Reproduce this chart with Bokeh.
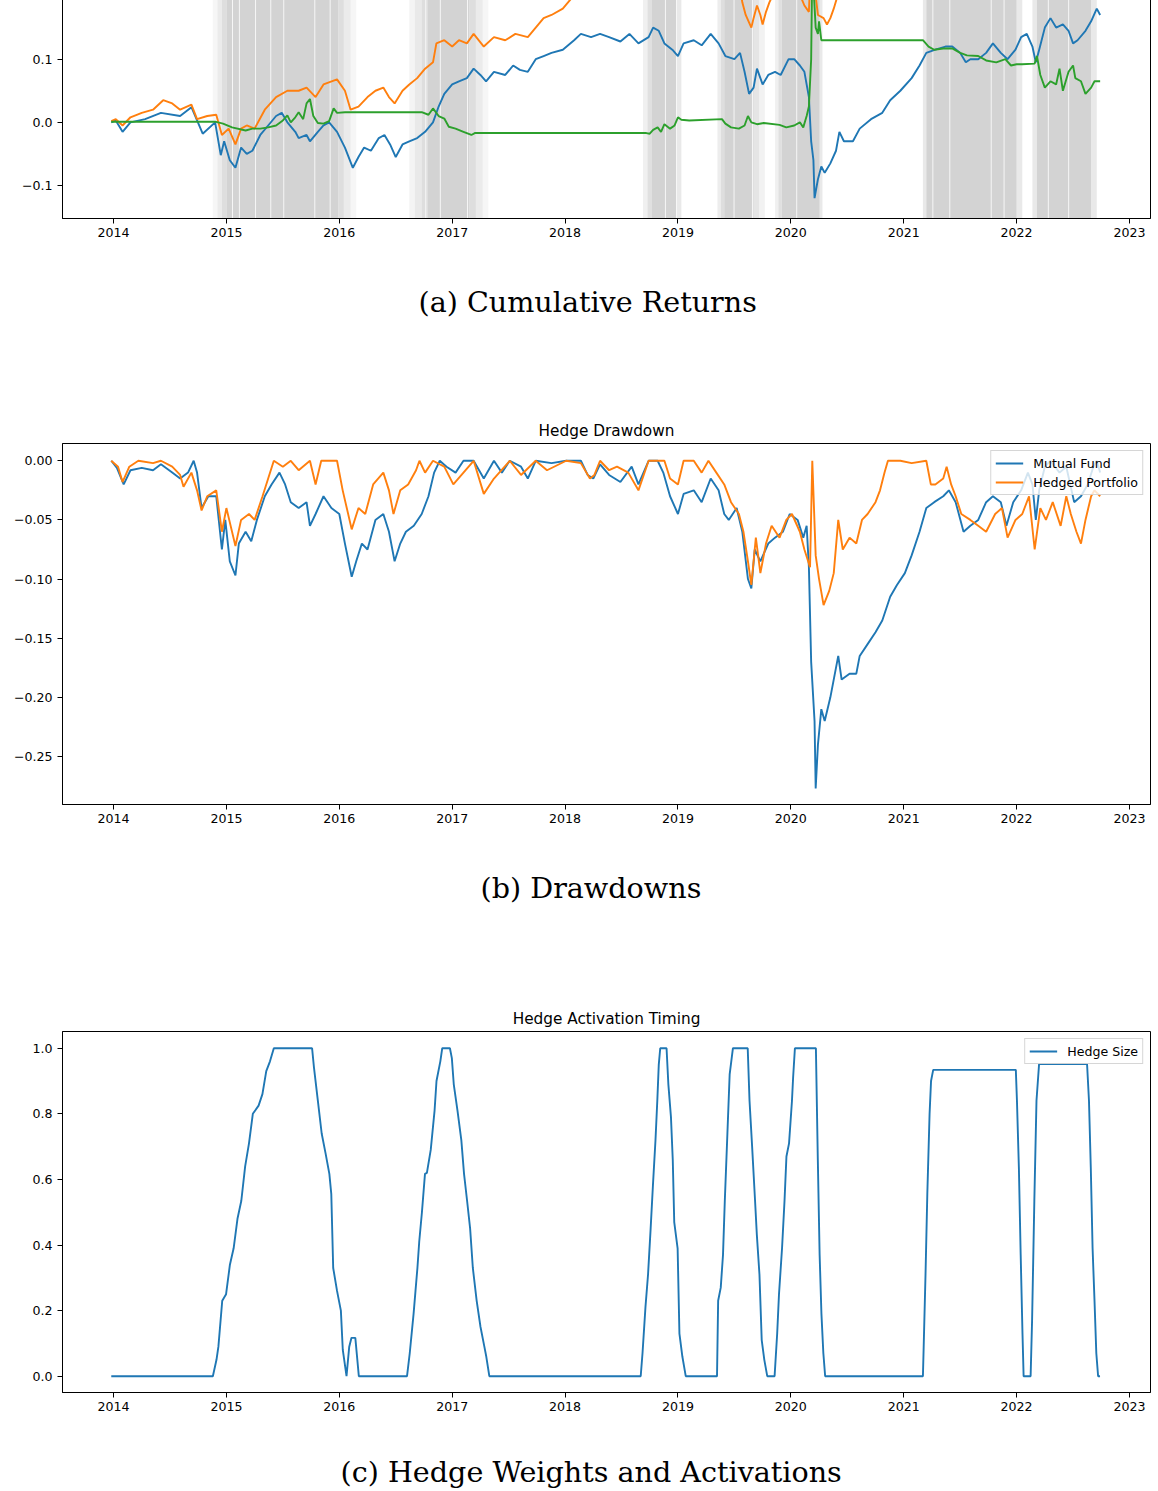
from bokeh.plotting import figure
from bokeh.layouts import column
from bokeh.models import (Range1d, FixedTicker, Title, Legend, LegendItem,
                          BoxAnnotation, Span)
from bokeh.embed import file_html
from bokeh.resources import INLINE

# ---------------- data ----------------
years = [2014, 2015, 2016, 2017, 2018, 2019, 2020, 2021, 2022, 2023]
year_labels = ["2014", "2015", "2016", "2017", "2018", "2019", "2020", "2021", "2022", "2023"]

# (a) cumulative returns
fund_cum_t = [
    2013.98, 2014.02, 2014.08, 2014.15, 2014.28, 2014.42, 2014.59, 2014.69, 2014.79, 2014.90,
    2014.95, 2014.98, 2015.03, 2015.08, 2015.13, 2015.18, 2015.23, 2015.30, 2015.37, 2015.44,
    2015.49, 2015.54, 2015.61, 2015.64, 2015.71, 2015.74, 2015.81, 2015.86, 2015.91, 2015.98,
    2016.05, 2016.12, 2016.17, 2016.22, 2016.28, 2016.35, 2016.40, 2016.45, 2016.50, 2016.56,
    2016.62, 2016.69, 2016.76, 2016.83, 2016.88, 2016.93, 2017.00, 2017.06, 2017.13, 2017.19,
    2017.25, 2017.30, 2017.37, 2017.47, 2017.54, 2017.60, 2017.67, 2017.74, 2017.81, 2017.88,
    2017.98, 2018.08, 2018.14, 2018.23, 2018.31, 2018.39, 2018.49, 2018.57, 2018.65, 2018.74,
    2018.78, 2018.83, 2018.88, 2018.95, 2019.00, 2019.05, 2019.14, 2019.21, 2019.29, 2019.36,
    2019.42, 2019.50, 2019.55, 2019.59, 2019.63, 2019.67, 2019.70, 2019.75, 2019.80, 2019.86,
    2019.91, 2019.98, 2020.03, 2020.08, 2020.12, 2020.16, 2020.18, 2020.20, 2020.21, 2020.24,
    2020.27, 2020.30, 2020.35, 2020.40, 2020.43, 2020.47, 2020.55, 2020.61, 2020.71, 2020.81,
    2020.88, 2020.97, 2021.07, 2021.14, 2021.20, 2021.28, 2021.37, 2021.43, 2021.50, 2021.55,
    2021.59, 2021.66, 2021.73, 2021.79, 2021.86, 2021.92, 2021.99, 2022.04, 2022.09, 2022.14,
    2022.17, 2022.20, 2022.25, 2022.30, 2022.35, 2022.41, 2022.46, 2022.50, 2022.54, 2022.61,
    2022.66, 2022.71, 2022.74]
fund_cum = [
    0.0, 0.003, -0.015, 0.0, 0.005, 0.015, 0.01, 0.024, -0.018, 0.0,
    -0.052, -0.03, -0.06, -0.072, -0.04, -0.05, -0.045, -0.02, -0.005, 0.01,
    0.015, 0.0, -0.015, -0.025, -0.02, -0.03, -0.015, -0.005, 0.0, -0.015,
    -0.04, -0.072, -0.055, -0.04, -0.045, -0.025, -0.02, -0.035, -0.055, -0.035,
    -0.03, -0.025, -0.015, 0.0, 0.025, 0.045, 0.06, 0.065, 0.07, 0.085,
    0.075, 0.065, 0.08, 0.075, 0.09, 0.083, 0.08, 0.1, 0.105, 0.11,
    0.115, 0.13, 0.14, 0.135, 0.14, 0.135, 0.128, 0.14, 0.125, 0.135,
    0.15, 0.145, 0.125, 0.115, 0.105, 0.125, 0.13, 0.122, 0.14, 0.125,
    0.105, 0.1, 0.11, 0.08, 0.045, 0.055, 0.085, 0.06, 0.075, 0.08,
    0.075, 0.1, 0.1, 0.09, 0.08, 0.04, -0.03, -0.06, -0.12, -0.09,
    -0.07, -0.08, -0.065, -0.045, -0.015, -0.03, -0.03, -0.01, 0.005, 0.015,
    0.035, 0.05, 0.07, 0.09, 0.11, 0.115, 0.12, 0.12, 0.11, 0.095,
    0.1, 0.1, 0.11, 0.125, 0.11, 0.1, 0.115, 0.135, 0.14, 0.12,
    0.095, 0.115, 0.15, 0.165, 0.15, 0.155, 0.145, 0.125, 0.13, 0.145,
    0.16, 0.18, 0.17]

hedged_cum_t = [
    2013.98, 2014.02, 2014.08, 2014.15, 2014.25, 2014.35, 2014.44, 2014.52, 2014.59, 2014.69,
    2014.74, 2014.83, 2014.91, 2014.96, 2015.02, 2015.08, 2015.13, 2015.18, 2015.25, 2015.34,
    2015.44, 2015.54, 2015.64, 2015.71, 2015.79, 2015.86, 2015.98, 2016.05, 2016.10, 2016.17,
    2016.25, 2016.32, 2016.39, 2016.44, 2016.49, 2016.56, 2016.62, 2016.69, 2016.76, 2016.83,
    2016.86, 2016.93, 2017.00, 2017.06, 2017.13, 2017.19, 2017.28, 2017.37, 2017.47, 2017.56,
    2017.67, 2017.74, 2017.81, 2017.88, 2017.98, 2018.05, 2018.10, 2018.20, 2018.26, 2018.35,
    2018.46, 2018.56, 2018.65, 2018.74, 2018.88, 2018.93, 2019.00, 2019.05, 2019.14, 2019.21,
    2019.27, 2019.34, 2019.41, 2019.47, 2019.54, 2019.57, 2019.60, 2019.65, 2019.67, 2019.70,
    2019.73, 2019.75, 2019.78, 2019.81, 2019.85, 2019.92, 2020.00, 2020.06, 2020.09, 2020.12,
    2020.16, 2020.19, 2020.22, 2020.24, 2020.29, 2020.32, 2020.35, 2020.38, 2020.43, 2020.50,
    2020.60, 2020.70, 2020.80, 2020.86, 2021.00, 2021.20, 2021.25, 2021.40, 2021.50, 2021.70,
    2021.90, 2022.10, 2022.16, 2022.30, 2022.40, 2022.57, 2022.74]
hedged_cum = [
    0.002, 0.005, -0.005, 0.008, 0.015, 0.02, 0.035, 0.03, 0.02, 0.028,
    0.005, 0.01, 0.012, -0.02, -0.01, -0.035, -0.01, -0.005, -0.01, 0.02,
    0.04, 0.05, 0.05, 0.055, 0.04, 0.06, 0.068, 0.05, 0.02, 0.025,
    0.04, 0.05, 0.055, 0.04, 0.03, 0.05, 0.06, 0.07, 0.085, 0.095,
    0.125, 0.13, 0.12, 0.13, 0.125, 0.14, 0.12, 0.135, 0.13, 0.14,
    0.135, 0.15, 0.165, 0.17, 0.18, 0.195, 0.205, 0.215, 0.205, 0.22,
    0.22, 0.23, 0.215, 0.245, 0.25, 0.235, 0.23, 0.26, 0.27, 0.26,
    0.285, 0.275, 0.26, 0.24, 0.225, 0.19, 0.17, 0.15, 0.165, 0.185,
    0.17, 0.155, 0.175, 0.19, 0.205, 0.22, 0.225, 0.21, 0.198, 0.185,
    0.175, 0.315, 0.2, 0.17, 0.165, 0.155, 0.165, 0.18, 0.21, 0.23,
    0.235, 0.26, 0.29, 0.315, 0.33, 0.36, 0.335, 0.355, 0.32, 0.3,
    0.28, 0.31, 0.26, 0.3, 0.28, 0.26, 0.29]

hedge_cum_t = [
    2013.98, 2014.90, 2014.97, 2015.05, 2015.17, 2015.23, 2015.30, 2015.37, 2015.44, 2015.50,
    2015.54, 2015.57, 2015.61, 2015.64, 2015.68, 2015.71, 2015.74, 2015.77, 2015.81, 2015.86,
    2015.91, 2015.95, 2015.98, 2016.05, 2016.73, 2016.79, 2016.83, 2016.88, 2016.93, 2016.97,
    2017.03, 2017.10, 2017.17, 2017.20, 2018.72, 2018.75, 2018.78, 2018.82, 2018.85, 2018.88,
    2018.93, 2018.97, 2019.00, 2019.03, 2019.10, 2019.39, 2019.42, 2019.47, 2019.54, 2019.59,
    2019.62, 2019.65, 2019.70, 2019.76, 2019.90, 2019.96, 2020.03, 2020.08, 2020.11, 2020.14,
    2020.16, 2020.18, 2020.19, 2020.22, 2020.24, 2020.25, 2020.27, 2020.29, 2021.17, 2021.22,
    2021.27, 2021.35, 2021.43, 2021.50, 2021.56, 2021.66, 2021.73, 2021.82, 2021.90, 2021.95,
    2022.00, 2022.05, 2022.16, 2022.18, 2022.21, 2022.25, 2022.30, 2022.35, 2022.38, 2022.41,
    2022.46, 2022.50, 2022.52, 2022.57, 2022.61, 2022.66, 2022.69, 2022.74]
hedge_cum = [
    0.001, 0.001, -0.002, -0.008, -0.013, -0.01, -0.01, -0.008, -0.005, 0.003,
    0.011, 0.0, 0.008, 0.016, 0.005, 0.03, 0.037, 0.01, -0.001, -0.002,
    0.002, 0.022, 0.015, 0.016, 0.016, 0.012, 0.022, 0.01, 0.006, -0.007,
    -0.01, -0.015, -0.02, -0.017, -0.017, -0.018, -0.012, -0.008, -0.015, -0.003,
    -0.01, -0.005, 0.008, 0.004, 0.003, 0.005, -0.002, -0.008, -0.01, -0.005,
    0.01, 0.0, -0.003, -0.001, -0.004, -0.008, -0.005, 0.0, -0.008, 0.01,
    0.025, 0.1, 0.25, 0.15, 0.14, 0.16, 0.13, 0.13, 0.13, 0.12,
    0.115, 0.117, 0.117, 0.11, 0.106, 0.105, 0.098, 0.095, 0.1, 0.09,
    0.092, 0.092, 0.093, 0.105, 0.075, 0.055, 0.065, 0.06, 0.085, 0.05,
    0.08, 0.09, 0.07, 0.065, 0.045, 0.055, 0.065, 0.065]

# hedge activation shading (start, end, intensity)
shade_start = [2014.88, 2014.92, 2014.96, 2015.00, 2015.99, 2016.04, 2016.10,
               2016.62, 2016.67, 2016.73, 2016.78, 2017.15, 2017.21, 2017.27,
               2018.69, 2018.73, 2018.77, 2018.99,
               2019.35, 2019.38, 2019.41, 2019.67, 2019.72,
               2019.86, 2019.89, 2019.92, 2020.255,
               2021.17, 2021.20, 2022.00,
               2022.14, 2022.18, 2022.66]
shade_end = [2014.92, 2014.96, 2015.00, 2015.99, 2016.04, 2016.10, 2016.15,
             2016.67, 2016.73, 2016.78, 2017.15, 2017.21, 2017.27, 2017.32,
             2018.73, 2018.77, 2018.99, 2019.03,
             2019.38, 2019.41, 2019.67, 2019.72, 2019.77,
             2019.89, 2019.92, 2020.255, 2020.28,
             2021.20, 2022.00, 2022.05,
             2022.18, 2022.66, 2022.71]
shade_level = [0.2, 0.45, 0.75, 1.0, 0.75, 0.45, 0.2,
               0.25, 0.5, 0.75, 1.0, 0.75, 0.45, 0.2,
               0.35, 0.7, 1.0, 0.5,
               0.4, 0.75, 1.0, 0.6, 0.3,
               0.35, 0.7, 1.0, 0.5,
               0.5, 1.0, 0.5,
               0.5, 1.0, 0.5]
shade_gaps = [2015.054, 2015.115, 2015.258, 2015.393, 2015.508, 2015.783, 2015.919,
              2016.766, 2016.895, 2017.136, 2018.889, 2018.987, 2019.497, 2019.66,
              2020.052, 2021.258, 2021.408, 2021.775, 2021.889, 2022.281, 2022.461]

# (b) drawdowns
fund_dd_t = [
    2013.98, 2014.03, 2014.09, 2014.15, 2014.25, 2014.35, 2014.42, 2014.52, 2014.59, 2014.66,
    2014.71, 2014.74, 2014.78, 2014.84, 2014.91, 2014.96, 2014.99, 2015.03, 2015.08, 2015.11,
    2015.17, 2015.22, 2015.27, 2015.34, 2015.40, 2015.47, 2015.52, 2015.57, 2015.64, 2015.71,
    2015.74, 2015.79, 2015.86, 2015.93, 2016.00, 2016.05, 2016.11, 2016.15, 2016.20, 2016.25,
    2016.32, 2016.39, 2016.44, 2016.49, 2016.54, 2016.59, 2016.66, 2016.73, 2016.79, 2016.84,
    2016.89, 2016.95, 2017.03, 2017.10, 2017.19, 2017.28, 2017.37, 2017.44, 2017.51, 2017.61,
    2017.67, 2017.74, 2017.88, 2018.01, 2018.14, 2018.20, 2018.25, 2018.31, 2018.39, 2018.49,
    2018.59, 2018.65, 2018.74, 2018.82, 2018.87, 2018.93, 2019.00, 2019.05, 2019.14, 2019.21,
    2019.29, 2019.36, 2019.41, 2019.45, 2019.52, 2019.57, 2019.62, 2019.65, 2019.68, 2019.73,
    2019.80, 2019.86, 2019.93, 2019.99, 2020.06, 2020.11, 2020.14, 2020.16, 2020.18, 2020.21,
    2020.22, 2020.24, 2020.27, 2020.30, 2020.35, 2020.42, 2020.45, 2020.52, 2020.58, 2020.61,
    2020.68, 2020.75, 2020.81, 2020.88, 2020.94, 2021.01, 2021.07, 2021.14, 2021.20, 2021.27,
    2021.35, 2021.40, 2021.46, 2021.53, 2021.59, 2021.66, 2021.73, 2021.79, 2021.86, 2021.91,
    2021.97, 2022.04, 2022.10, 2022.14, 2022.17, 2022.20, 2022.25, 2022.30, 2022.38, 2022.44,
    2022.51, 2022.57, 2022.63, 2022.68, 2022.71, 2022.74]
fund_dd = [
    0.0, -0.006, -0.02, -0.008, -0.006, -0.008, -0.003, -0.01, -0.015, -0.01,
    0.0, -0.01, -0.04, -0.03, -0.03, -0.075, -0.05, -0.085, -0.097, -0.07,
    -0.06, -0.068, -0.05, -0.03, -0.02, -0.01, -0.02, -0.035, -0.04, -0.035,
    -0.055, -0.045, -0.03, -0.04, -0.045, -0.07, -0.098, -0.085, -0.07, -0.075,
    -0.05, -0.045, -0.06, -0.085, -0.07, -0.06, -0.055, -0.045, -0.03, -0.01,
    0.0, -0.005, -0.01, 0.0, 0.0, -0.015, 0.0, -0.01, 0.0, -0.005,
    -0.015, 0.0, -0.002, 0.0, 0.0, -0.012, -0.015, -0.003, -0.012, -0.018,
    -0.005, -0.02, 0.0, 0.0, -0.01, -0.03, -0.045, -0.028, -0.025, -0.035,
    -0.015, -0.025, -0.045, -0.05, -0.04, -0.06, -0.1, -0.108, -0.075, -0.085,
    -0.07, -0.065, -0.06, -0.045, -0.05, -0.065, -0.055, -0.09, -0.17, -0.22,
    -0.277, -0.24, -0.21, -0.22, -0.2, -0.165, -0.185, -0.18, -0.18, -0.165,
    -0.155, -0.145, -0.135, -0.115, -0.105, -0.095, -0.08, -0.06, -0.04, -0.035,
    -0.03, -0.025, -0.035, -0.06, -0.055, -0.05, -0.035, -0.03, -0.035, -0.055,
    -0.035, -0.025, -0.01, -0.02, -0.05, -0.025, -0.005, 0.0, -0.01, -0.005,
    -0.035, -0.03, -0.02, -0.005, 0.0, -0.01]

hedged_dd_t = [
    2013.98, 2014.04, 2014.08, 2014.14, 2014.22, 2014.35, 2014.42, 2014.52, 2014.59, 2014.62,
    2014.69, 2014.74, 2014.78, 2014.83, 2014.91, 2014.96, 2015.00, 2015.08, 2015.13, 2015.20,
    2015.25, 2015.32, 2015.37, 2015.42, 2015.50, 2015.57, 2015.64, 2015.74, 2015.79, 2015.84,
    2015.98, 2016.03, 2016.11, 2016.17, 2016.23, 2016.30, 2016.39, 2016.44, 2016.48, 2016.54,
    2016.61, 2016.68, 2016.71, 2016.76, 2016.83, 2016.93, 2017.01, 2017.10, 2017.19, 2017.28,
    2017.37, 2017.51, 2017.61, 2017.74, 2017.84, 2018.01, 2018.14, 2018.22, 2018.26, 2018.31,
    2018.39, 2018.46, 2018.56, 2018.65, 2018.74, 2018.88, 2018.93, 2019.00, 2019.05, 2019.14,
    2019.21, 2019.27, 2019.34, 2019.41, 2019.47, 2019.54, 2019.58, 2019.62, 2019.65, 2019.69,
    2019.73, 2019.78, 2019.83, 2019.90, 2019.96, 2020.01, 2020.08, 2020.12, 2020.17, 2020.19,
    2020.22, 2020.25, 2020.29, 2020.34, 2020.38, 2020.42, 2020.46, 2020.52, 2020.58, 2020.63,
    2020.68, 2020.75, 2020.79, 2020.83, 2020.86, 2020.97, 2021.07, 2021.20, 2021.24, 2021.28,
    2021.35, 2021.38, 2021.42, 2021.46, 2021.51, 2021.59, 2021.66, 2021.73, 2021.81, 2021.87,
    2021.92, 2021.99, 2022.05, 2022.11, 2022.16, 2022.21, 2022.26, 2022.32, 2022.39, 2022.44,
    2022.48, 2022.53, 2022.57, 2022.61, 2022.66, 2022.69, 2022.74]
hedged_dd = [
    0.0, -0.005, -0.018, -0.005, 0.0, -0.002, 0.0, -0.005, -0.012, -0.022,
    -0.01, -0.025, -0.042, -0.03, -0.025, -0.06, -0.04, -0.072, -0.05, -0.045,
    -0.05, -0.03, -0.015, 0.0, -0.005, 0.0, -0.008, 0.0, -0.02, 0.0,
    0.0, -0.025, -0.058, -0.04, -0.045, -0.02, -0.01, -0.025, -0.045, -0.025,
    -0.02, -0.008, 0.0, -0.01, 0.0, -0.005, -0.02, -0.01, 0.0, -0.028,
    -0.015, 0.0, -0.012, 0.0, -0.008, 0.0, -0.002, -0.015, -0.012, 0.0,
    -0.008, -0.005, -0.01, -0.025, 0.0, 0.0, -0.015, -0.02, 0.0, 0.0,
    -0.01, 0.0, -0.01, -0.02, -0.035, -0.045, -0.06, -0.085, -0.105, -0.065,
    -0.095, -0.07, -0.055, -0.065, -0.05, -0.045, -0.06, -0.075, -0.09, 0.0,
    -0.08, -0.1, -0.122, -0.11, -0.095, -0.05, -0.075, -0.065, -0.07, -0.05,
    -0.045, -0.035, -0.025, -0.01, 0.0, 0.0, -0.002, 0.0, -0.02, -0.02,
    -0.015, -0.005, -0.02, -0.03, -0.045, -0.05, -0.055, -0.06, -0.045, -0.04,
    -0.065, -0.05, -0.045, -0.03, -0.075, -0.04, -0.05, -0.035, -0.055, -0.03,
    -0.045, -0.06, -0.07, -0.05, -0.03, -0.025, -0.03]

# (c) hedge size
size_t = [
    2013.98, 2014.88, 2014.912, 2014.929, 2014.963, 2014.997, 2015.031, 2015.064, 2015.098, 2015.132,
    2015.166, 2015.20, 2015.234, 2015.285, 2015.319, 2015.353, 2015.386, 2015.42, 2015.759, 2015.776,
    2015.81, 2015.844, 2015.878, 2015.912, 2015.929, 2015.946, 2015.98, 2016.014, 2016.031, 2016.064,
    2016.088, 2016.108, 2016.142, 2016.173, 2016.60, 2016.624, 2016.658, 2016.675, 2016.692, 2016.708,
    2016.732, 2016.759, 2016.776, 2016.81, 2016.844, 2016.861, 2016.895, 2016.912, 2016.98, 2016.997,
    2017.014, 2017.047, 2017.081, 2017.105, 2017.132, 2017.159, 2017.183, 2017.217, 2017.251, 2017.285,
    2017.302, 2017.329, 2018.67, 2018.686, 2018.712, 2018.735, 2018.758, 2018.778, 2018.801, 2018.817,
    2018.83, 2018.843, 2018.899, 2018.915, 2018.938, 2018.954, 2018.967, 2018.997, 2019.013, 2019.039,
    2019.069, 2019.346, 2019.356, 2019.379, 2019.399, 2019.415, 2019.438, 2019.458, 2019.487, 2019.618,
    2019.634, 2019.657, 2019.683, 2019.699, 2019.722, 2019.742, 2019.765, 2019.791, 2019.856, 2019.879,
    2019.895, 2019.922, 2019.944, 2019.961, 2019.984, 2020.01, 2020.02, 2020.036, 2020.222, 2020.239,
    2020.255, 2020.271, 2020.288, 2020.304, 2021.17, 2021.176, 2021.193, 2021.209, 2021.229, 2021.242,
    2021.261, 2021.993, 2022.003, 2022.02, 2022.036, 2022.052, 2022.062, 2022.124, 2022.137, 2022.157,
    2022.176, 2022.199, 2022.624, 2022.641, 2022.657, 2022.673, 2022.69, 2022.706, 2022.722, 2022.739]
size_v = [
    0.0, 0.0, 0.05, 0.09, 0.23, 0.25, 0.34, 0.39, 0.48, 0.535,
    0.64, 0.71, 0.80, 0.825, 0.86, 0.93, 0.96, 1.0, 1.0, 0.94,
    0.84, 0.74, 0.68, 0.617, 0.556, 0.33, 0.26, 0.2, 0.08, 0.0,
    0.09, 0.117, 0.117, 0.0, 0.0, 0.07, 0.19, 0.26, 0.33, 0.41,
    0.5, 0.617, 0.62, 0.69, 0.81, 0.9, 0.96, 1.0, 1.0, 0.97,
    0.89, 0.81, 0.72, 0.617, 0.535, 0.45, 0.33, 0.23, 0.15, 0.09,
    0.06, 0.0, 0.0, 0.07, 0.21, 0.31, 0.45, 0.58, 0.72, 0.84,
    0.95, 1.0, 1.0, 0.89, 0.79, 0.66, 0.47, 0.39, 0.13, 0.06,
    0.0, 0.0, 0.23, 0.27, 0.37, 0.535, 0.74, 0.92, 1.0, 1.0,
    0.84, 0.7, 0.535, 0.43, 0.31, 0.11, 0.05, 0.0, 0.0, 0.13,
    0.25, 0.39, 0.535, 0.67, 0.71, 0.84, 0.91, 1.0, 1.0, 0.66,
    0.37, 0.19, 0.07, 0.0, 0.0, 0.08, 0.31, 0.556, 0.8, 0.9,
    0.934, 0.934, 0.84, 0.637, 0.37, 0.13, 0.0, 0.0, 0.17, 0.535,
    0.84, 0.952, 0.952, 0.84, 0.637, 0.39, 0.23, 0.07, 0.0, 0.0]

ret_ticks = [-0.1, 0.0, 0.1]
ret_labels = ["\u22120.1", "0.0", "0.1"]
dd_ticks = [0.0, -0.05, -0.10, -0.15, -0.20, -0.25]
dd_labels = ["0.00", "\u22120.05", "\u22120.10", "\u22120.15", "\u22120.20", "\u22120.25"]
size_ticks = [0.0, 0.2, 0.4, 0.6, 0.8, 1.0]
size_labels = ["0.0", "0.2", "0.4", "0.6", "0.8", "1.0"]

# ---------------- style ----------------
BLUE, ORANGE, GREEN = "#1f77b4", "#ff7f0e", "#2ca02c"
SANS = "DejaVu Sans"
SERIF = "DejaVu Serif"
TICK_FS = "12.6px"
LW = 1.9
X_RANGE = (2013.548, 2023.186)


def make_fig(height, mbt, mbb, yr, yticks, ylabels, title=None):
    p = figure(width=1154, height=height, x_range=Range1d(*X_RANGE), y_range=Range1d(*yr),
               output_backend="svg", toolbar_location=None,
               min_border_left=62, min_border_right=4, min_border_top=mbt, min_border_bottom=mbb)
    p.xgrid.visible = False
    p.ygrid.visible = False
    p.background_fill_color = "white"
    p.border_fill_color = "white"
    p.outline_line_color = "black"
    p.outline_line_width = 1
    p.outline_line_alpha = 1
    for ax in (p.xaxis[0], p.yaxis[0]):
        ax.axis_line_color = "black"
        ax.axis_line_width = 1
        ax.major_tick_line_color = "black"
        ax.major_tick_line_width = 1
        ax.major_tick_in = 0
        ax.major_tick_out = 5
        ax.minor_tick_line_color = None
        ax.major_label_text_font = SANS
        ax.major_label_text_font_size = TICK_FS
        ax.major_label_text_color = "black"
    p.xaxis.ticker = FixedTicker(ticks=years)
    p.xaxis.major_label_overrides = {float(k): v for k, v in zip(years, year_labels)}
    p.xaxis.major_label_standoff = 4
    p.yaxis.ticker = FixedTicker(ticks=yticks)
    p.yaxis.major_label_overrides = {float(k): v for k, v in zip(yticks, ylabels)}
    p.yaxis.major_label_standoff = 5
    if title:
        p.title.text = title
        p.title.align = "center"
        p.title.text_font = SANS
        p.title.text_font_size = "15.3px"
        p.title.text_font_style = "normal"
        p.title.text_color = "black"
        p.title.standoff = 7
    return p


def caption(p, text, offset, gap_size):
    # empty spacer between the axis and the caption
    p.add_layout(Title(text=" ", text_font=SERIF, text_font_size=gap_size, standoff=0), "below")
    p.add_layout(Title(text=text, align="left", offset=offset, vertical_align="top",
                       text_font=SERIF, text_font_size="28.6px", text_font_style="normal",
                       text_color="black", standoff=-24), "below")


def make_legend(items):
    return Legend(items=items, location="top_right", margin=7, padding=4, spacing=3,
                  label_height=16, glyph_height=16, glyph_width=28, label_standoff=10,
                  label_text_font=SANS, label_text_font_size=TICK_FS, label_text_color="black",
                  border_line_color="#cccccc", border_line_alpha=0.8, border_line_width=1,
                  background_fill_color="white", background_fill_alpha=0.8)


# ---------------- (a) cumulative returns ----------------
pa = make_fig(377, 0, 157, (-0.1523, 0.1961), ret_ticks, ret_labels)
for s, e, a in zip(shade_start, shade_end, shade_level):
    pa.add_layout(BoxAnnotation(left=s, right=e, fill_color="#d3d3d3", fill_alpha=a,
                                line_alpha=0, level="underlay"))
for g in shade_gaps:
    pa.add_layout(Span(location=g, dimension="height", line_color="white",
                       line_width=1, line_alpha=0.8, level="underlay"))
pa.line(fund_cum_t, fund_cum, line_color=BLUE, line_width=LW)
pa.line(hedged_cum_t, hedged_cum, line_color=ORANGE, line_width=LW)
pa.line(hedge_cum_t, hedge_cum, line_color=GREEN, line_width=LW)
caption(pa, "(a) Cumulative Returns", 356, "46.8px")

# ---------------- (b) drawdowns ----------------
pb = make_fig(585, 68, 156, (-0.2906, 0.0146), dd_ticks, dd_labels, title="Hedge Drawdown")
rb1 = pb.line(fund_dd_t, fund_dd, line_color=BLUE, line_width=LW)
rb2 = pb.line(hedged_dd_t, hedged_dd, line_color=ORANGE, line_width=LW)
pb.add_layout(make_legend([LegendItem(label="Mutual Fund", renderers=[rb1]),
                           LegendItem(label="Hedged Portfolio", renderers=[rb2])]))
caption(pb, "(b) Drawdowns", 418, "46.8px")

# ---------------- (c) hedge size ----------------
pc = make_fig(531, 71, 99, (-0.0497, 1.051), size_ticks, size_labels, title="Hedge Activation Timing")
rc = pc.line(size_t, size_v, line_color=BLUE, line_width=LW)
pc.add_layout(make_legend([LegendItem(label="Hedge Size", renderers=[rc])]))
caption(pc, "(c) Hedge Weights and Activations", 278, "43.5px")

layout = column(pa, pb, pc, margin=(-2, 0, 0, 0))
open("out.html", "w").write(file_html(layout, INLINE))
